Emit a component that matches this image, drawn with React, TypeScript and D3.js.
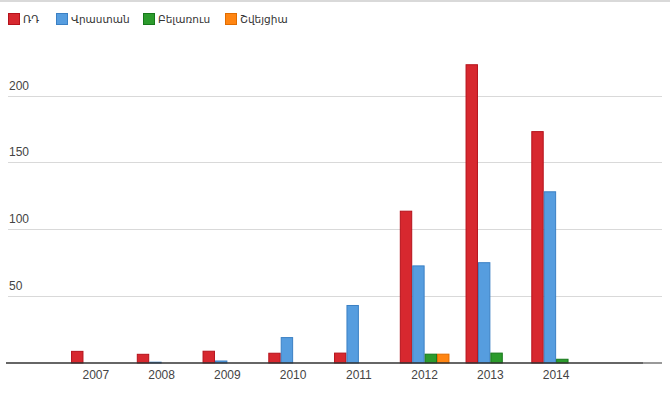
import { useEffect, useRef } from "react";
import * as d3 from "d3";

const years = ["2007", "2008", "2009", "2010", "2011", "2012", "2013", "2014"];
const seriesNames = ["ՌԴ", "Վրաստան", "Բելառուս", "Շվեյցիա"];
const russia = [8.7, 6.5, 8.8, 7.3, 7.4, 113.5, 223, 173];
const georgia = [0, 0.6, 1.5, 19, 43, 72.6, 75, 128];
const belarus = [0, 0, 0, 0, 0, 6.6, 7.4, 2.8];
const switzerland = [0, 0, 0, 0, 0, 6.6, 0, 0];
const yTicks = [50, 100, 150, 200];

const FILL = ["#d7282f", "#569ddf", "#2c9b2c", "#ff8512"];
const EDGE = ["#b5121b", "#3b80c4", "#17781b", "#e06c00"];
const FONT = "Arial, 'Liberation Sans', 'DejaVu Sans', sans-serif";

function BarChart() {
  const ref = useRef<SVGSVGElement>(null);

  useEffect(() => {
    const el = ref.current;
    if (!el) return;
    const W = 670, H = 395;
    const svg = d3.select(el).attr("viewBox", `0 0 ${W} ${H}`).attr("width", W).attr("height", H);
    svg.selectAll("*").remove();

    const values = [russia, georgia, belarus, switzerland];
    const y = d3.scaleLinear().domain([0, 200]).range([363, 95.5]);
    const x0 = d3.scaleBand<string>().domain(years).range([63, 589]).paddingInner(0.245).paddingOuter(0.1225);
    const x1 = d3.scaleBand<number>().domain([0, 1, 2, 3]).range([0, x0.bandwidth()]);

    // top frame line
    svg.append("line").attr("x1", 0).attr("x2", W).attr("y1", 1).attr("y2", 1).attr("stroke", "#d9d9d9").attr("stroke-width", 2);

    // grid + y labels
    yTicks.forEach((t) => {
      svg.append("line").attr("x1", 8).attr("x2", 662).attr("y1", Math.round(y(t)) + 0.5).attr("y2", Math.round(y(t)) + 0.5).attr("stroke", "#d9d9d9").attr("stroke-width", 1);
      svg.append("text").attr("x", 9).attr("y", y(t) - 6).attr("fill", "#444").attr("font-size", 12).attr("font-family", FONT).text(t);
    });

    // bars
    values.forEach((vals, s) => {
      svg.append("g").selectAll("rect").data(years).join("rect")
        .attr("x", (d) => (x0(d) ?? 0) + (x1(s) ?? 0) + 0.5)
        .attr("y", (_d, i) => y(vals[i]))
        .attr("width", x1.bandwidth() - 1)
        .attr("height", (_d, i) => y(0) - y(vals[i]))
        .attr("fill", FILL[s]).attr("stroke", EDGE[s]).attr("stroke-width", 1)
        .attr("display", (_d, i) => (vals[i] > 0 ? null : "none"));
    });

    // baseline
    svg.append("line").attr("x1", 6).attr("x2", 643).attr("y1", y(0)).attr("y2", y(0)).attr("stroke", "#333").attr("stroke-width", 1.5);
    svg.append("line").attr("x1", 643).attr("x2", 662).attr("y1", y(0)).attr("y2", y(0)).attr("stroke", "#777").attr("stroke-width", 1.5);

    // x labels
    svg.append("g").selectAll("text").data(years).join("text")
      .attr("x", (d) => (x0(d) ?? 0) + x0.bandwidth() / 2).attr("y", 379).attr("text-anchor", "middle")
      .attr("fill", "#444").attr("font-size", 12).attr("font-family", FONT).text((d) => d);

    // legend
    const legendX = [8, 56, 143, 225];
    seriesNames.forEach((name, s) => {
      svg.append("rect").attr("x", legendX[s] + 0.5).attr("y", 13.5).attr("width", 11).attr("height", 11)
        .attr("fill", FILL[s]).attr("stroke", EDGE[s]).attr("stroke-width", 1);
      svg.append("text").attr("x", legendX[s] + 15).attr("y", 23).attr("fill", "#333")
        .attr("font-size", 10.5).attr("font-family", FONT).text(name);
    });
  }, []);

  return <svg ref={ref} role="img" aria-label="Bar chart by year" style={{ position: "absolute", left: 0, top: 0, background: "#fff" }} />;
}

export default function App() {
  return <BarChart />;
}
